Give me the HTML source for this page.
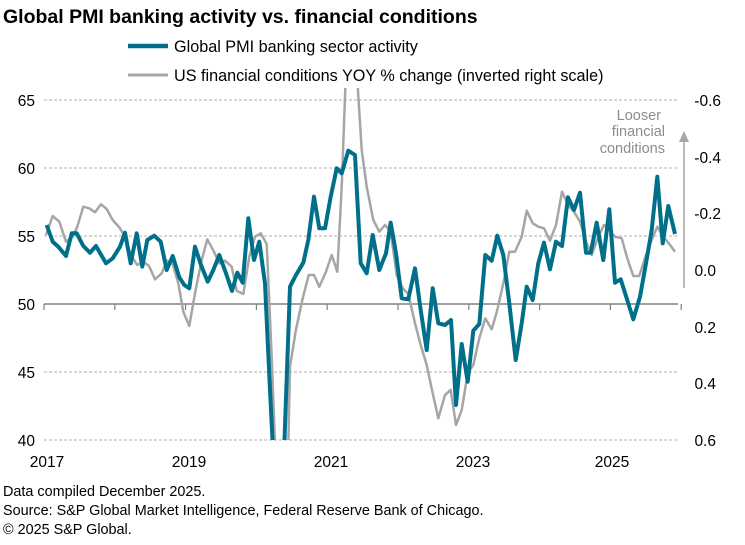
<!DOCTYPE html>
<html><head><meta charset="utf-8"><style>
body{margin:0;background:#fff;font-family:"Liberation Sans",Arial,sans-serif}
svg text{font-family:"Liberation Sans",Arial,sans-serif}
</style></head><body>
<svg id="s" width="745" height="540" viewBox="0 0 745 540" xmlns="http://www.w3.org/2000/svg">
<text x="3" y="23" font-size="19.5" font-weight="bold" fill="#000">Global PMI banking activity vs. financial conditions</text>
<line x1="128" y1="46" x2="168" y2="46" stroke="#006f8a" stroke-width="4.5"/>
<text x="174" y="52" font-size="16.2" fill="#000">Global PMI banking sector activity</text>
<line x1="128" y1="75" x2="168" y2="75" stroke="#a6a6a6" stroke-width="3"/>
<text x="174" y="81" font-size="16.2" fill="#000">US financial conditions YOY % change (inverted right scale)</text>
<g stroke="#b0b0b0" stroke-width="1" stroke-dasharray="3,2">
<line x1="44" y1="100" x2="678" y2="100"/><line x1="44" y1="168" x2="678" y2="168"/>
<line x1="44" y1="236" x2="678" y2="236"/><line x1="44" y1="372" x2="678" y2="372"/>
<line x1="44" y1="440" x2="678" y2="440"/></g>
<line x1="44" y1="304" x2="678" y2="304" stroke="#808080" stroke-width="1.5"/>
<g id="ticks" stroke="#808080" stroke-width="1.2"></g>
<g font-size="15.5" fill="#000">
<text x="35" y="106" text-anchor="end">65</text><text x="35" y="174" text-anchor="end">60</text>
<text x="35" y="242" text-anchor="end">55</text><text x="35" y="310" text-anchor="end">50</text>
<text x="35" y="378" text-anchor="end">45</text><text x="35" y="446" text-anchor="end">40</text>
<text x="721" y="106" text-anchor="end">-0.6</text><text x="721" y="163" text-anchor="end">-0.4</text>
<text x="721" y="219" text-anchor="end">-0.2</text><text x="716" y="276" text-anchor="end">0.0</text>
<text x="716" y="333" text-anchor="end">0.2</text><text x="716" y="389" text-anchor="end">0.4</text>
<text x="716" y="446" text-anchor="end">0.6</text>
<text x="47" y="467" text-anchor="middle">2017</text><text x="189" y="467" text-anchor="middle">2019</text>
<text x="331" y="467" text-anchor="middle">2021</text><text x="473" y="467" text-anchor="middle">2023</text>
<text x="612" y="467" text-anchor="middle">2025</text>
</g>
<g font-size="14.5" fill="#8c8c8c" text-anchor="end">
<text x="661" y="120">Looser</text><text x="665" y="136">financial</text><text x="665" y="153">conditions</text></g>
<line x1="684" y1="288" x2="684" y2="140" stroke="#a6a6a6" stroke-width="1.5"/>
<polygon points="679,142 689,142 684,131" fill="#a6a6a6"/>
<defs><clipPath id="c"><rect x="40" y="88" width="640" height="352"/></clipPath></defs>
<g clip-path="url(#c)" fill="none" stroke-linejoin="round">
<polyline id="g" stroke="#a6a6a6" stroke-width="2.5"/>
<polyline id="t" stroke="#006f8a" stroke-width="4"/>
</g>
<g font-size="14.4" fill="#000">
<text x="3" y="496">Data compiled December 2025.</text>
<text x="3" y="515">Source: S&amp;P Global Market Intelligence, Federal Reserve Bank of Chicago.</text>
<text x="3" y="534">© 2025 S&amp;P Global.</text></g>
</svg>
<script>
function f(a,ox,oy){var r=[];for(var i=0;i<a.length;i+=2)r.push((ox+a[i]/3).toFixed(1)+","+(oy+a[i+1]/3).toFixed(1));return r;}
var t1=[20,405,38,455,55,470,78,498,95,430,110,430,130,468,150,488,168,468,198,520,218,505,240,470,255,428,272,520,290,430,307,530,322,450,343,437,362,455,380,540,398,498,418,562,433,585,448,595,465,470,483,525,503,575,520,540,538,495,558,550,576,603,592,548,608,578,625,385,642,510,658,455,675,580,690,900,705,1200,728,1200,750,590,768,555,790,518,805,450,822,320,838,415,855,415,872,320,890,235,905,250,925,182,945,195];
var t2=[62,520,80,550,98,435,118,540,138,490,152,398,168,490,185,625,205,628,225,535,242,660,260,780,278,595,295,700,315,705,333,690,348,945,365,762,383,875,400,722,418,702,436,495,455,512,472,437,490,495,508,640,527,810,545,700,560,590,578,630,595,520,612,458,630,538,648,455,666,468,684,322,702,360,720,308,738,488,752,488,770,398,790,510,808,358,825,578,842,568,860,625,880,688,900,620,918,520,935,420,952,260,968,460,985,348,1005,432];
var g1=[18,435,38,378,58,395,78,455,98,440,112,410,130,350,148,355,165,367,183,343,200,357,218,390,238,412,255,440,272,495,292,525,310,515,327,528,345,568,365,550,380,512,398,522,415,580,430,665,448,708,465,610,485,510,502,448,522,485,538,520,555,512,575,530,590,602,610,612,628,500,645,440,662,430,680,462,695,800,710,1200,742,1200,750,830,768,718,788,625,806,555,822,555,838,590,858,545,875,495,892,545,905,290,918,-60];
var g2=[50,-60,65,180,80,290,100,390,118,425,135,405,152,425,170,555,188,595,205,612,225,700,242,765,260,825,278,910,295,985,315,915,332,900,348,1005,365,960,383,850,400,825,418,745,436,685,455,718,472,660,490,580,508,485,525,485,545,440,560,362,578,400,595,410,612,415,630,452,648,405,666,305,684,345,702,365,720,395,738,455,755,495,775,440,792,405,808,420,825,440,845,445,862,505,880,558,898,558,918,495,935,450,952,410,970,440,988,462,1005,485];
document.getElementById('t').setAttribute('points',f(t1,40,90).concat(f(t2,340,90)).join(' '));
document.getElementById('g').setAttribute('points',f(g1,40,90).concat(f(g2,340,90)).join(' '));
var tk=document.getElementById('ticks'),h='';
for(var i=0;i<10;i++){var x=44+i*70.8;h+='<line x1="'+x+'" y1="304" x2="'+x+'" y2="310"/>';}
tk.innerHTML=h;
</script>
</body></html>
